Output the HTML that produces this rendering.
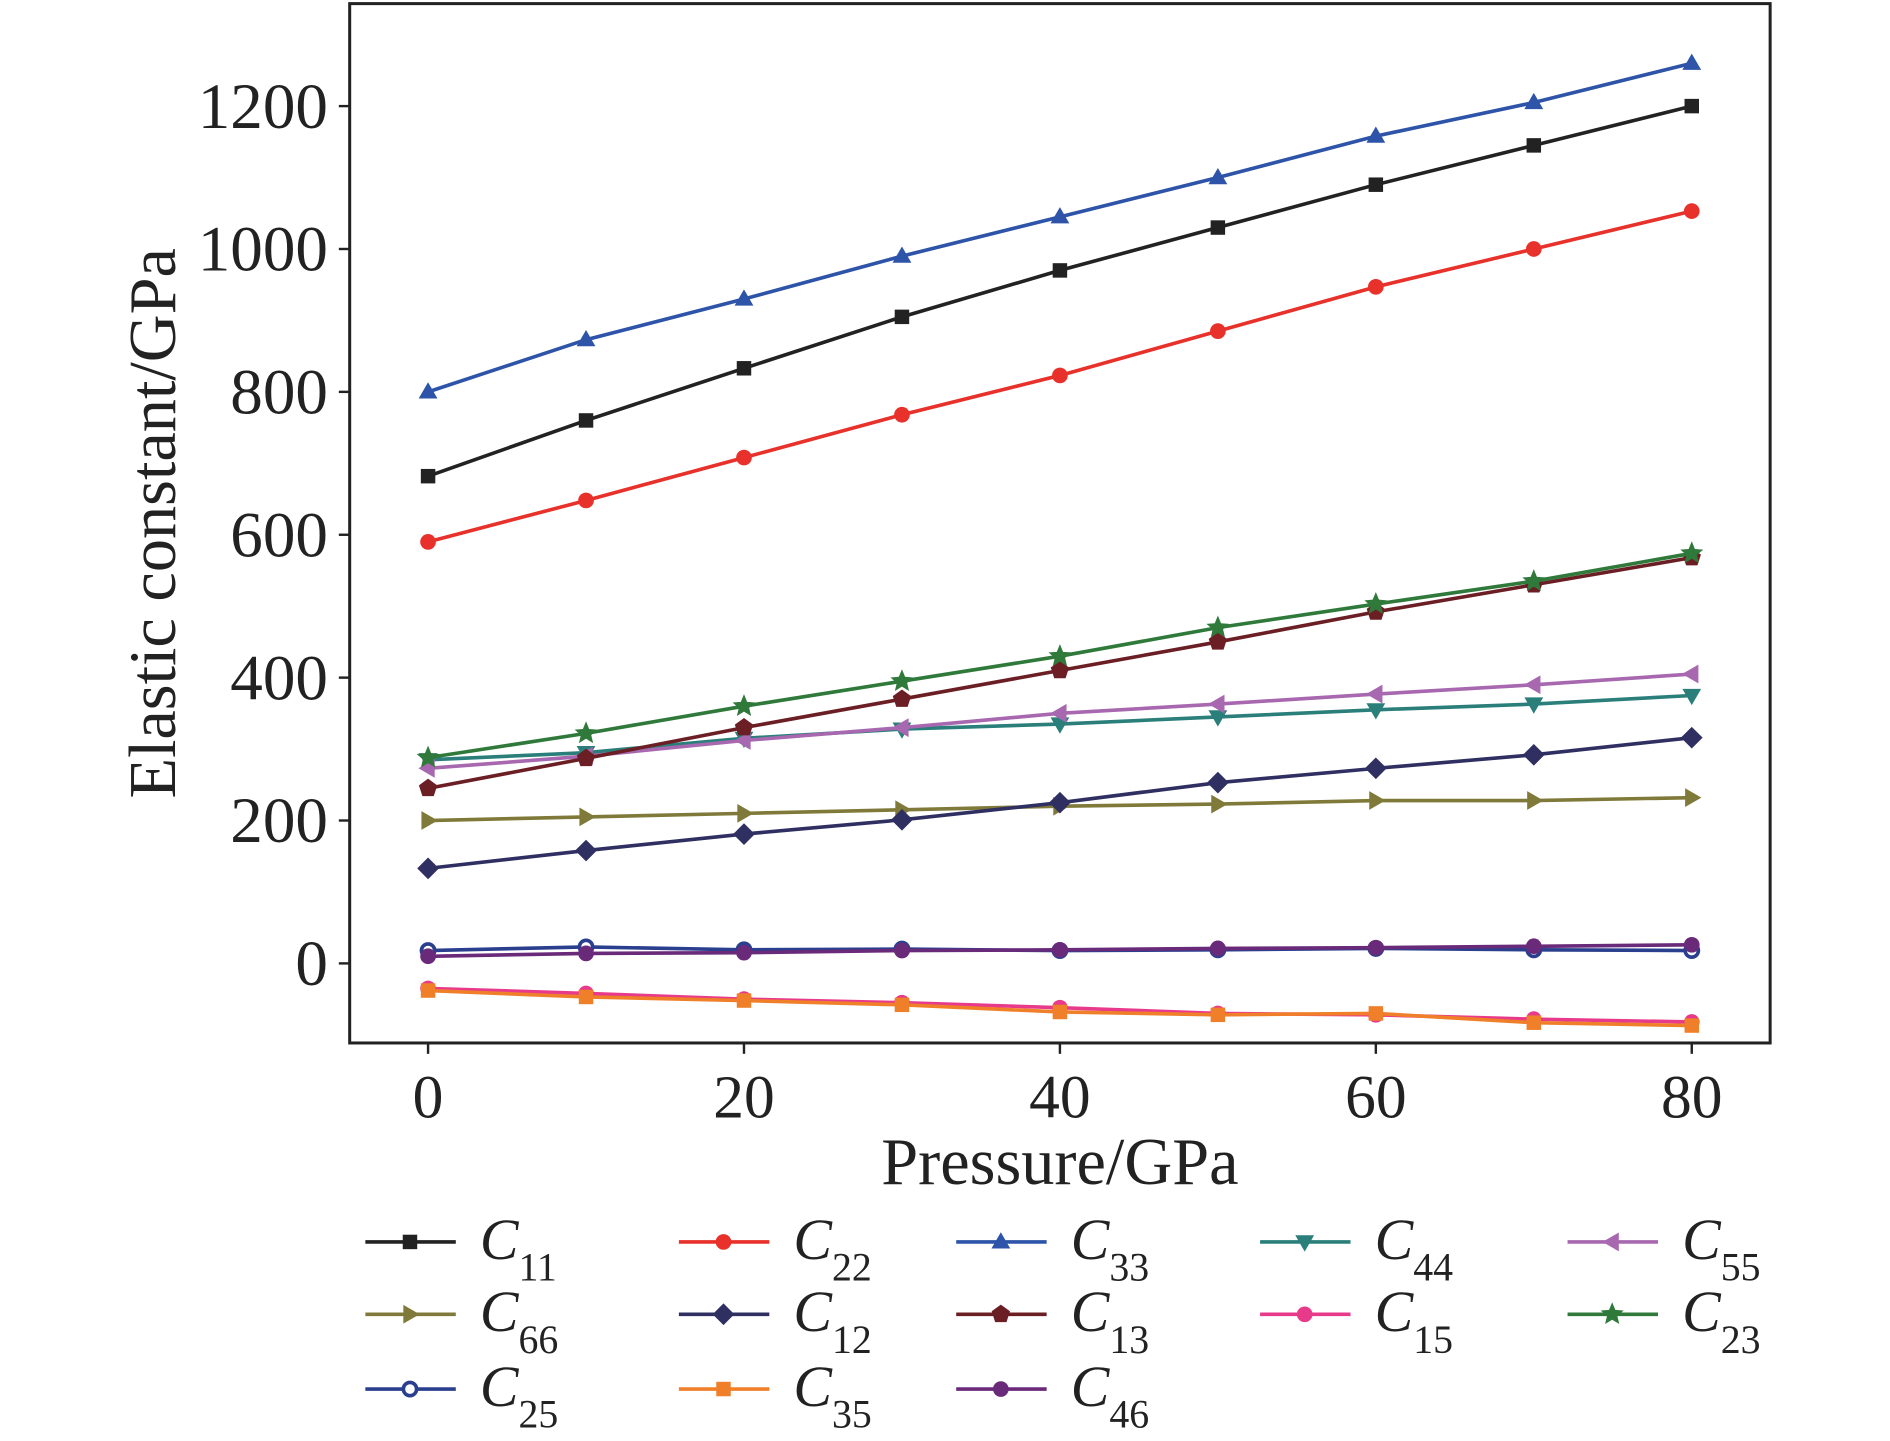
<!DOCTYPE html>
<html><head><meta charset="utf-8"><style>
html,body{margin:0;padding:0;background:#fff}
svg{display:block}
text{font-family:"Liberation Serif",serif;fill:#222}
</style></head><body>
<svg id="chart" width="1890" height="1441" viewBox="0 0 1567.4 1195.1" preserveAspectRatio="none" xmlns="http://www.w3.org/2000/svg">
<g id="axes"></g>
<g id="series"></g>
<g id="legend"></g>
<text x="879" y="982" font-size="55" text-anchor="middle">Pressure/GPa</text>
<text transform="translate(145,434) rotate(-90)" font-size="55" text-anchor="middle">Elastic constant/GPa</text>
</svg>
<script>
const pressures=[0,10,20,30,40,50,60,70,80];
const xTicks=[0,20,40,60,80];
const yTicks=[0,200,400,600,800,1000,1200];
const names=["11","22","33","44","55","66","12","13","15","23","25","35","46"];
const C11=[682,760,833,905,970,1030,1090,1145,1200];
const C22=[590,648,708,768,823,885,947,1000,1053];
const C33=[800,873,930,990,1045,1100,1158,1205,1260];
const C44=[285,295,315,328,335,345,355,363,375];
const C55=[273,290,312,330,350,363,377,390,405];
const C66=[200,205,210,215,220,223,228,228,232];
const C12=[133,158,181,201,225,253,273,292,316];
const C13=[245,287,330,370,410,450,492,530,568];
const C15=[-35,-42,-50,-55,-62,-70,-72,-78,-82];
const C23=[288,322,360,395,430,470,503,535,574];
const C25=[18,23,19,20,18,19,21,19,18];
const C35=[-38,-47,-52,-58,-68,-72,-70,-83,-87];
const C46=[10,14,15,18,19,21,22,24,26];
const values=[C11,C22,C33,C44,C55,C66,C12,C13,C15,C23,C25,C35,C46];
const colors=["#222222","#e8312a","#2d54a8","#2a7f7a","#a768b0","#807a3a","#2f2f62","#6b1f24","#e83a8a","#2f7a3a","#2b3f8f","#f07f2a","#6a2a7a"];
const markers=["square","circle","up","down","left","right","diamond","pentagon","circle","star","open","square","circle"];
const NS="http://www.w3.org/2000/svg";
const L=290,R=1468,T=3,B=865;
function xs(v){return 355+(v-0)*(1403-355)/80;}
function ys(v){return 799-v*(799-88)/1200;}
function mk(tag,attrs,parent){const e=document.createElementNS(NS,tag);for(const k in attrs)e.setAttribute(k,attrs[k]);parent.appendChild(e);return e;}
const axes=document.getElementById('axes');
const frame=mk('rect',{x:L,y:T,width:R-L,height:B-T,fill:'none',stroke:'#222','stroke-width':2.5},axes);


xTicks.forEach(t=>{
 const l=mk('line',{x1:xs(t),x2:xs(t),y1:B,y2:B+9,stroke:'#222','stroke-width':2},axes);
 
 
 const tx=mk('text',{x:xs(t),y:927,'font-size':51,'text-anchor':'middle'},axes);tx.textContent=t;
 
 
});
yTicks.forEach(t=>{
 const l=mk('line',{x1:L-9,x2:L,y1:ys(t),y2:ys(t),stroke:'#222','stroke-width':2},axes);
 
 
 const tx=mk('text',{x:272,y:ys(t)+18,'font-size':54,'text-anchor':'end'},axes);tx.textContent=t;
 
 
});
function poly(cx,cy,r,n,rot,inner){let p=[];const k=inner?2*n:n;for(let i=0;i<k;i++){const a=rot+i*2*Math.PI/k;const rr=inner&&i%2?r*inner:r;p.push((cx+rr*Math.cos(a)).toFixed(1)+','+(cy+rr*Math.sin(a)).toFixed(1));}return p.join(' ');}
function marker(type,cx,cy,col,parent){
 const r=8;let e;
 if(type==='square')e=mk('rect',{x:cx-6,y:cy-6,width:12,height:12,fill:col},parent);
 else if(type==='circle')e=mk('circle',{cx,cy,r:6.5,fill:col},parent);
 else if(type==='open')e=mk('circle',{cx,cy,r:5.5,fill:'#fff',stroke:col,'stroke-width':3},parent);
 else if(type==='up')e=mk('polygon',{points:poly(cx,cy+1,r+1,3,-Math.PI/2),fill:col},parent);
 else if(type==='down')e=mk('polygon',{points:poly(cx,cy-1,r+1,3,Math.PI/2),fill:col},parent);
 else if(type==='left')e=mk('polygon',{points:poly(cx+1,cy,r+1,3,Math.PI),fill:col},parent);
 else if(type==='right')e=mk('polygon',{points:poly(cx-1,cy,r+1,3,0),fill:col},parent);
 else if(type==='diamond')e=mk('polygon',{points:poly(cx,cy,r+1,4,0),fill:col},parent);
 else if(type==='pentagon')e=mk('polygon',{points:poly(cx,cy,r,5,-Math.PI/2),fill:col},parent);
 else e=mk('polygon',{points:poly(cx,cy,r+2,5,-Math.PI/2,0.45),fill:col},parent);
 
 
}
const sg=document.getElementById('series');
values.forEach((vals,i)=>{
 const g=mk('g',{},sg);
 
 
 const pl=mk('polyline',{points:vals.map((v,j)=>xs(pressures[j])+','+ys(v)).join(' '),fill:'none',stroke:colors[i],'stroke-width':3},g);
 
 
 vals.forEach((v,j)=>marker(markers[i],xs(pressures[j]),ys(v),colors[i],g));
});
const lg=document.getElementById('legend');
const colsX=[303,563,793,1045,1300],rowsY=[1030,1090,1152];
names.forEach((n,i)=>{
 const x=colsX[i%5],y=rowsY[Math.floor(i/5)];
 const g=mk('g',{},lg);
 
 
 mk('line',{x1:x,x2:x+75,y1:y,y2:y,stroke:colors[i],'stroke-width':3},g);
 marker(markers[i],x+37,y,colors[i],g);
 const t=mk('text',{x:x+95,y:y+14,'font-size':48,'font-style':'italic'},g);
 t.textContent='C';
 const s=mk('tspan',{dy:18,'font-size':33,'font-style':'normal'},t);s.textContent=n;
});
</script>
</body></html>
